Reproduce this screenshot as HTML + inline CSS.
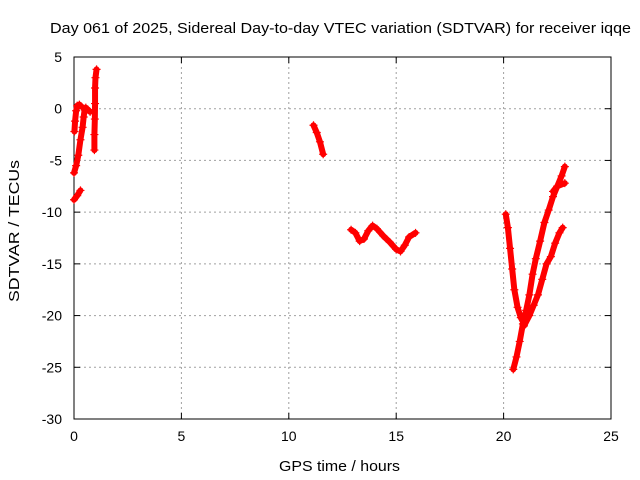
<!DOCTYPE html>
<html><head><meta charset="utf-8"><style>
body{margin:0;background:#fff}
svg{display:block;font-family:"Liberation Sans",sans-serif}
</style></head><body>
<svg id="c" width="640" height="480"></svg>
<script>
const xTicks=[0,5,10,15,20,25];
const yTicks=[5,0,-5,-10,-15,-20,-25,-30];
const segA0=[[0.0,-8.8],[0.15,-8.4],[0.3,-7.9]];
const segA1=[[0.02,-2.2],[0.05,-1.2],[0.1,-0.2],[0.15,0.3],[0.25,0.4],[0.35,0.2]];
const segA2=[[0.0,-6.2],[0.1,-5.5],[0.2,-4.5],[0.3,-3.0],[0.4,-1.8],[0.45,-0.8],[0.5,0.0],[0.55,0.1],[0.65,-0.1],[0.75,-0.3]];
const segA3=[[0.95,-4.0],[0.95,-2.5],[0.97,-1.0],[0.98,0.5],[0.98,2.0],[1.0,3.0],[1.05,3.8]];
const segB=[[11.15,-1.6],[11.3,-2.3],[11.45,-3.2],[11.6,-4.4]];
const segC=[[12.9,-11.7],[13.1,-12.0],[13.3,-12.8],[13.5,-12.6],[13.7,-11.8],[13.9,-11.3],[14.1,-11.6],[14.4,-12.3],[14.7,-12.9],[15.0,-13.6],[15.2,-13.8],[15.4,-13.2],[15.6,-12.4],[15.9,-12.0]];
const segD1=[[20.1,-10.2],[20.2,-11.5],[20.3,-13.5],[20.4,-15.5],[20.5,-17.5],[20.65,-19.2],[20.8,-20.2],[20.95,-20.8]];
const segD2=[[20.45,-25.2],[20.6,-24.0],[20.75,-22.5],[20.9,-20.8],[21.05,-19.5],[21.2,-18.0],[21.35,-16.0],[21.5,-14.5],[21.7,-12.8],[21.9,-11.0],[22.1,-9.8],[22.3,-8.5],[22.5,-7.5],[22.7,-6.5],[22.85,-5.6]];
const segD3=[[20.95,-21.0],[21.2,-20.0],[21.4,-19.0],[21.6,-18.0],[21.8,-16.5],[22.0,-15.0],[22.2,-14.3],[22.4,-13.0],[22.6,-12.0],[22.75,-11.5]];
const segD4=[[22.3,-8.0],[22.5,-7.5],[22.85,-7.2]];
const segments=[segA0,segA1,segA2,segA3,segB,segC,segD1,segD2,segD3,segD4];

const L=74,R=611,T=57,B=419;
const X=t=>L+(t-0)/(25-0)*(R-L);
const Y=v=>T+(5-v)/(5-(-30))*(B-T);
const svg=document.getElementById('c');
const NS='http://www.w3.org/2000/svg';
function mk(tag,attrs,parent){const e=document.createElementNS(NS,tag);for(const k in attrs)e.setAttribute(k,attrs[k]);(parent||svg).appendChild(e);return e;}

const grid=mk('g',{});


xTicks.forEach(t=>{
  if(t>0&&t<25) mk('line',{x1:X(t),x2:X(t),y1:T,y2:B,stroke:'#a0a0a0','stroke-dasharray':'2,3'},grid);
  mk('line',{x1:X(t),x2:X(t),y1:B,y2:B-6,stroke:'#000'},grid);
  mk('line',{x1:X(t),x2:X(t),y1:T,y2:T+6,stroke:'#000'},grid);
  const tx=mk('text',{x:X(t),y:B+22,'text-anchor':'middle','font-size':14,fill:'#000'});
  
  
  tx.textContent=t;
});
yTicks.forEach(v=>{
  if(v<5&&v>-30) mk('line',{x1:L,x2:R,y1:Y(v),y2:Y(v),stroke:'#a0a0a0','stroke-dasharray':'2,3'},grid);
  mk('line',{x1:L,x2:L+6,y1:Y(v),y2:Y(v),stroke:'#000'},grid);
  mk('line',{x1:R,x2:R-6,y1:Y(v),y2:Y(v),stroke:'#000'},grid);
  const tx=mk('text',{x:L-12,y:Y(v)+5,'text-anchor':'end','font-size':14,fill:'#000'});
  
  
  tx.textContent=v;
});
const frame=mk('rect',{x:L,y:T,width:R-L,height:B-T,fill:'none',stroke:'#000'});



segments.forEach(seg=>{
  const g=mk('g',{});
  
  
  mk('polyline',{points:seg.map(p=>X(p[0])+','+Y(p[1])).join(' '),fill:'none',stroke:'#f00','stroke-width':6,'stroke-linejoin':'round','stroke-linecap':'round'},g);
  seg.forEach(p=>{
    const m=mk('path',{d:`M${X(p[0])-4},${Y(p[1])}h8M${X(p[0])},${Y(p[1])-4}v8`,stroke:'#f00','stroke-width':1.2},g);
    
    
  });
});

const title=mk('text',{x:50,y:33,'font-size':14.5,fill:'#000',textLength:581,lengthAdjust:'spacingAndGlyphs'});


title.textContent='Day 061 of 2025, Sidereal Day-to-day VTEC variation (SDTVAR) for receiver iqqe';
const xt=mk('text',{x:279,y:471,'font-size':15,fill:'#000',textLength:121,lengthAdjust:'spacingAndGlyphs'});


xt.textContent='GPS time / hours';
const yt=mk('text',{x:0,y:0,'font-size':15,fill:'#000',textLength:142,lengthAdjust:'spacingAndGlyphs',transform:'translate(19 302) rotate(-90)'});


yt.textContent='SDTVAR / TECUs';
</script>
</body></html>
